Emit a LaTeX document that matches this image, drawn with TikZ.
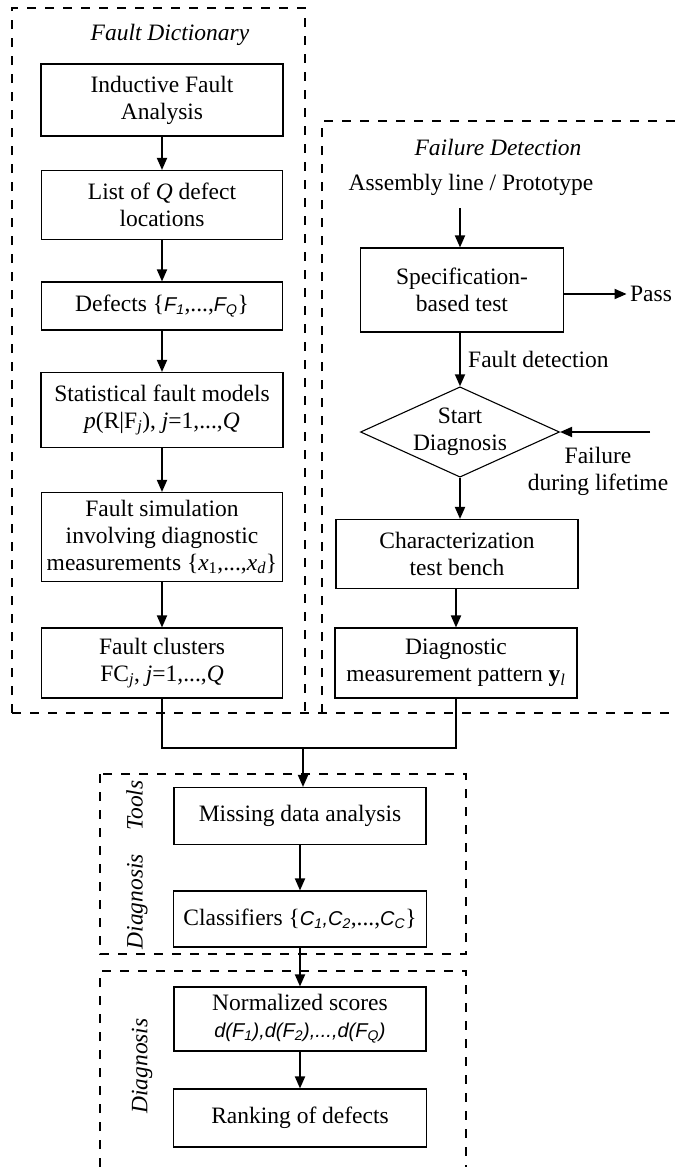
\documentclass[tikz,border=0pt]{standalone}
\usepackage{fontspec}
\setmainfont{Liberation Serif}
\setsansfont{Liberation Sans}
\usetikzlibrary{arrows.meta, positioning, shapes.geometric}

\newcommand{\sfit}[1]{{\fontsize{20}{24}\selectfont\sffamily\itshape #1}}
\newcommand{\subit}[1]{\textsubscript{\itshape #1}}

\begin{document}
\begin{tikzpicture}[
  x=1pt, y=-1pt,
  font=\fontsize{23.5}{27}\selectfont,
  box/.style={draw, line width=1.1pt, align=center, inner sep=2pt},
  region/.style={dash pattern=on 9pt off 9pt, line width=1.1pt},
  arr/.style={-{Triangle[length=12pt,width=10pt]}, line width=1.8pt},
  title/.style={font=\fontsize{23.5}{27}\selectfont\itshape}
]
  \useasboundingbox (0,0) rectangle (675,1167);

  % Regions
  \draw[region] (12,713) -- (12,8) -- (305,8) -- (305,713);
  \draw[region] (12,713) -- (675,713);
  \draw[region] (322,713) -- (322,121) -- (675,121);
  \draw[region] (100,774) rectangle (466,954);
  \draw[region] (100,1167) -- (100,971) -- (466,971) -- (466,1167);

  % Fault dictionary
  \node[title] (tdict) at (170,35) {Fault Dictionary};
  \node[box, minimum width=242pt, minimum height=72pt] (ifa) at (162,100)
    {Inductive Fault\\Analysis};
  \node[box, minimum width=241pt, minimum height=69pt] (loc) at (162,205)
    {List of \textit{Q} defect\\locations};
  \node[box, minimum width=241pt, minimum height=48pt] (def) at (162,306)
    {Defects \{\sfit{F\textsubscript{1}},...,\sfit{F\textsubscript{Q}}\}};
  \node[box, minimum width=242pt, minimum height=75pt] (stat) at (162,410)
    {Statistical fault models\\\textit{p}(R|F\subit{j}), \textit{j}=1,...,\textit{Q}};
  \node[box, minimum width=241pt, minimum height=89pt] (sim) at (162,537)
    {Fault simulation\\involving diagnostic\\measurements
     \{\textit{x}\textsubscript{1},...,\textit{x}\subit{d}\}};
  \node[box, minimum width=241pt, minimum height=70pt] (clu) at (162,663)
    {Fault clusters\\FC\subit{j}, \textit{j}=1,...,\textit{Q}};
  \draw[arr] (ifa) -- (loc);
  \draw[arr] (loc) -- (def);
  \draw[arr] (def) -- (stat);
  \draw[arr] (stat) -- (sim);
  \draw[arr] (sim) -- (clu);

  % Failure detection
  \node[title] (tdet) at (498,147) {Failure Detection};
  \node (asm) at (471,185) {Assembly line / Prototype};
  \coordinate (asmo) at (460,208);
  \node[box, minimum width=203pt, minimum height=84pt] (spec) at (462,290)
    {Specification-\\based test};
  \node (pass) at (651,294) {Pass};
  \node[draw, diamond, aspect=2.2, line width=1.1pt, minimum width=199pt,
    minimum height=90pt, inner sep=0pt, align=center] (start) at (460,432)
    {Start\\Diagnosis};
  \node[align=center] (fail) at (598,471) {Failure\\during lifetime};
  \coordinate (life) at (650,432);
  \node[box, minimum width=242pt, minimum height=69pt] (char) at (457,554)
    {Characterization\\test bench};
  \node[box, minimum width=242pt, minimum height=70pt] (meas) at (456,663)
    {Diagnostic\\measurement pattern \textbf{y}\subit{l}};
  \draw[arr] (asmo) -- (asmo |- spec.north);
  \draw[arr] (spec.east |- pass.west) -- (pass.west);
  \draw[arr] (spec.south -| start) -- (start.north)
    node[midway, right=4pt] (fdet) {Fault detection};
  \draw[arr] (life) -- (start.east);
  \draw[arr] (start.south) -- (start.south |- char.north);
  \draw[arr] (char.south -| meas) -- (meas.north);

  % Join
  \coordinate (mrg) at (303,748);
  \draw[line width=1.8pt] (clu.south) |- (mrg) -| (meas.south);

  % Diagnosis tools
  \node[title, rotate=90] (ttool) at (137,865) {Diagnosis\quad Tools};
  \node[box, minimum width=252pt, minimum height=57pt] (miss) at (300,816)
    {Missing data analysis};
  \node[box, minimum width=253pt, minimum height=56pt] (cls) at (300,919)
    {Classifiers \{\sfit{C\textsubscript{1},C\textsubscript{2}},...,\sfit{C\textsubscript{C}}\}};
  \draw[arr] (mrg) -- (mrg |- miss.north);
  \draw[arr] (miss) -- (cls);

  % Diagnosis
  \node[title, rotate=90] (tdiag) at (142,1066) {Diagnosis};
  \node[box, minimum width=252pt, minimum height=64pt] (norm) at (300,1019)
    {Normalized scores\\\sfit{d(F\textsubscript{1}),d(F\textsubscript{2}),...,d(F\textsubscript{Q})}};
  \node[box, minimum width=253pt, minimum height=58pt] (rank) at (300,1118)
    {Ranking of defects};
  \draw[arr] (cls) -- (norm);
  \draw[arr] (norm) -- (rank);
\end{tikzpicture}
\end{document}
